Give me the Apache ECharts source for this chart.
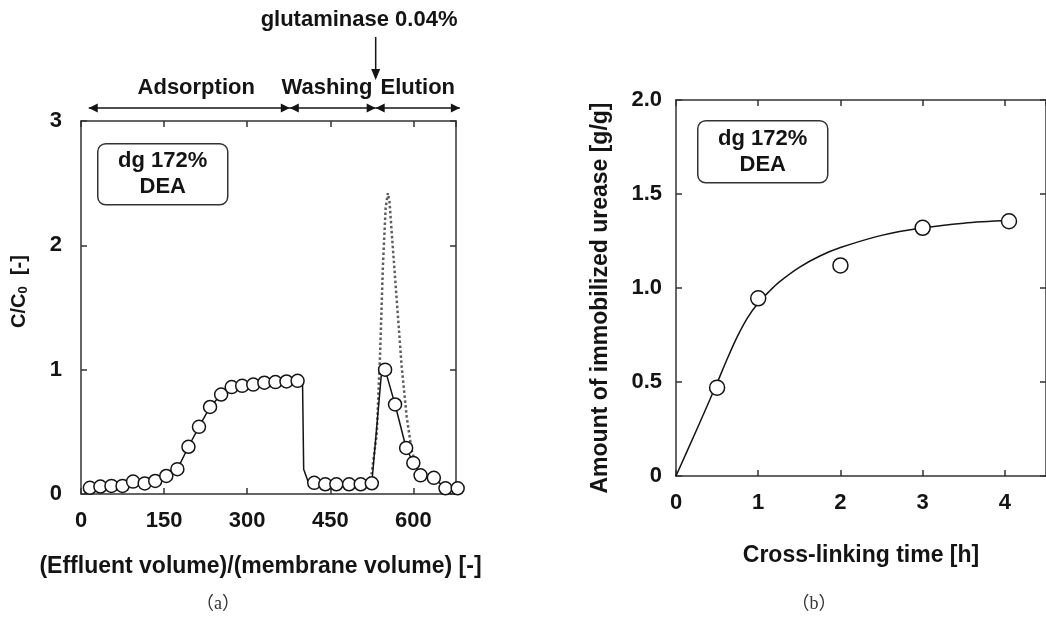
<!DOCTYPE html>
<html>
<head>
<meta charset="utf-8">
<script src="https://cdn.jsdelivr.net/npm/echarts@6.0.0/dist/echarts.min.js"></script>
<style>
  html, body { margin: 0; background: #fff; }
  #main { width: 1046px; height: 617px; }
</style>
</head>
<body>
<div id="main"></div>
<script>
// (a) breakthrough / elution curve
const volA = [16, 35, 55, 75, 94, 115, 134, 154, 174, 194, 213, 233, 253, 272, 291, 311, 331, 351, 371, 391,
  421, 441, 461, 484, 505, 525, 549, 567, 587, 600, 613, 637, 658, 680];
const concA = [0.05, 0.06, 0.065, 0.065, 0.1, 0.085, 0.105, 0.145, 0.2, 0.38, 0.54, 0.7, 0.8, 0.86, 0.87, 0.88, 0.895, 0.9, 0.905, 0.91,
  0.09, 0.078, 0.078, 0.078, 0.078, 0.086, 1.0, 0.72, 0.37, 0.25, 0.15, 0.13, 0.046, 0.046];
// solid guide line through the points (with the drop and rise)
const lineVolA = [16, 35, 55, 75, 94, 115, 134, 154, 174, 194, 213, 233, 253, 272, 291, 311, 331, 351, 371, 391,
  400, 402, 410, 421, 441, 461, 484, 505, 525, 542, 549, 567, 587, 600, 613, 637, 658, 680];
const lineConcA = [0.05, 0.06, 0.065, 0.065, 0.1, 0.085, 0.105, 0.145, 0.2, 0.38, 0.54, 0.7, 0.8, 0.86, 0.87, 0.88, 0.895, 0.9, 0.905, 0.91,
  0.88, 0.2, 0.1, 0.09, 0.078, 0.078, 0.078, 0.078, 0.086, 0.95, 1.0, 0.72, 0.37, 0.25, 0.15, 0.13, 0.046, 0.046];
// dotted peak
const dotVolA = [519, 525, 534, 540, 545, 550, 554, 557, 561, 570, 579, 588, 597, 606, 614];
const dotConcA = [0.08, 0.17, 0.49, 1.13, 1.83, 2.3, 2.42, 2.35, 2.1, 1.56, 1.02, 0.62, 0.35, 0.22, 0.15];

// phase annotations (x in effluent volume units)
const phaseNames = ['Adsorption', 'Washing', 'Elution'];
const phaseEdges = [14, 377, 532, 684];
const phaseLabelX = [208, 444, 608];
const enzymeLabel = 'glutaminase 0.04%';
const enzymeX = 532;

// (b) immobilized urease vs cross-linking time
const timeB = [0.5, 1, 2, 3, 4.05];
const ureaseB = [0.47, 0.945, 1.12, 1.32, 1.355];
const curveTimeB = [0, 0.25, 0.5, 0.625, 0.75, 0.875, 1.0, 1.125, 1.25, 1.5, 1.75, 2.0, 2.5, 3.0, 3.5, 4.05];
const curveUreaseB = [0, 0.245, 0.495, 0.625, 0.745, 0.845, 0.92, 0.978, 1.03, 1.11, 1.17, 1.215, 1.28, 1.32, 1.345, 1.36];

const xTicksA = { min: 0, max: 677, interval: 150 };
const yTicksA = { min: 0, max: 3, interval: 1 };
const xTicksB = { min: 0, max: 4.5, interval: 1 };
const yTicksB = { min: 0, max: 2, interval: 0.5 };

const zip = (xs, ys) => xs.map((x, i) => [x, ys[i]]);

const FONT = '"Liberation Sans", Arial, sans-serif';
const INK = '#141414';
const axisLine = { show: true, onZero: false, lineStyle: { color: '#333', width: 1.5 } };
const axisTick = { show: true, inside: true, length: 6, lineStyle: { color: '#333', width: 1.5 } };
const label = { color: INK, fontSize: 22, fontWeight: 'bold', fontFamily: FONT };
const nameStyle = { color: INK, fontSize: 23, fontWeight: 'bold', fontFamily: FONT };

function mainAxis(ticks, grid, extra) {
  return Object.assign({
    type: 'value', gridIndex: grid,
    min: ticks.min, max: ticks.max, interval: ticks.interval,
    axisLine, axisTick, splitLine: { show: false },
    nameTextStyle: nameStyle
  }, extra);
}
function mirrorAxis(ticks, grid, position) {
  return {
    type: 'value', gridIndex: grid, position,
    min: ticks.min, max: ticks.max, interval: ticks.interval,
    axisLine, axisTick, axisLabel: { show: false }, splitLine: { show: false }
  };
}

const option = {
  animation: false,
  backgroundColor: '#fff',
  grid: [
    { left: 81, top: 121, width: 375, height: 373 },
    { left: 676, top: 100, width: 377, height: 376 }
  ],
  xAxis: [
    mainAxis(xTicksA, 0, {
      position: 'bottom',
      name: '(Effluent volume)/(membrane volume) [-]',
      nameLocation: 'middle', nameGap: 61,
      nameTextStyle: Object.assign({ padding: [0, 16, 0, 0] }, nameStyle),
      axisLabel: Object.assign({ margin: 16, showMaxLabel: false }, label)
    }),
    mirrorAxis(xTicksA, 0, 'top'),
    mainAxis(xTicksB, 1, {
      position: 'bottom',
      name: 'Cross-linking time [h]',
      nameLocation: 'middle', nameGap: 68,
      axisLabel: Object.assign({ margin: 16, showMaxLabel: false }, label)
    }),
    mirrorAxis(xTicksB, 1, 'top')
  ],
  yAxis: [
    mainAxis(yTicksA, 0, {
      position: 'left',
      name: 'C/C{sub|0}  [-]',
      nameLocation: 'middle', nameGap: 51,
      nameTextStyle: {
        color: INK, fontSize: 20, fontWeight: 'bold', fontFamily: FONT, padding: [0, 0, 0, 32],
        rich: { sub: { color: INK, fontSize: 13, fontWeight: 'bold', fontFamily: FONT, verticalAlign: 'bottom', padding: [8, 0, 0, 0] } }
      },
      axisLabel: Object.assign({ margin: 19 }, label)
    }),
    mirrorAxis(yTicksA, 0, 'right'),
    mainAxis(yTicksB, 1, {
      position: 'left',
      name: 'Amount of immobilized urease [g/g]',
      nameLocation: 'middle', nameGap: 64,
      nameTextStyle: Object.assign({ padding: [0, 20, 0, 0] }, nameStyle),
      axisLabel: Object.assign({ margin: 14, formatter: v => (v === 0 ? '0' : v.toFixed(1)) }, label)
    }),
    mirrorAxis(yTicksB, 1, 'right')
  ],
  series: [
    {
      type: 'line', xAxisIndex: 0, yAxisIndex: 0,
      data: zip(dotVolA, dotConcA), showSymbol: false, silent: true,
      lineStyle: { color: '#5e5e5e', width: 2.5, type: 'dotted' }, z: 2
    },
    {
      type: 'line', xAxisIndex: 0, yAxisIndex: 0,
      data: zip(lineVolA, lineConcA), showSymbol: false, silent: true, clip: false,
      lineStyle: { color: INK, width: 1.5 }, z: 3
    },
    {
      type: 'scatter', xAxisIndex: 0, yAxisIndex: 0,
      data: zip(volA, concA), symbol: 'circle', symbolSize: 13, clip: false,
      itemStyle: { color: '#fff', borderColor: INK, borderWidth: 1.5, opacity: 1 }, z: 4
    },
    {
      type: 'line', xAxisIndex: 2, yAxisIndex: 2,
      data: zip(curveTimeB, curveUreaseB), smooth: 0.3, showSymbol: false, silent: true,
      lineStyle: { color: INK, width: 1.5 }, z: 3
    },
    {
      type: 'scatter', xAxisIndex: 2, yAxisIndex: 2,
      data: zip(timeB, ureaseB), symbol: 'circle', symbolSize: 15,
      itemStyle: { color: '#fff', borderColor: INK, borderWidth: 1.5, opacity: 1 }, z: 4
    }
  ]
};

const chart = echarts.init(document.getElementById('main'), null, { renderer: 'canvas' });
chart.setOption(option);

// annotations above panel (a), placed through the panel's own scales
const toPx = (x, y) => chart.convertToPixel({ xAxisIndex: 0, yAxisIndex: 0 }, [x, y]);
const arrowY = toPx(0, 3.105)[1];
const phaseTextY = toPx(0, 3.266)[1];
const stroke = { stroke: INK, lineWidth: 1.5 };
const headL = (x, y) => ({ type: 'polygon', shape: { points: [[x, y], [x + 9, y - 4.5], [x + 9, y + 4.5]] }, style: { fill: INK } });
const headR = (x, y) => ({ type: 'polygon', shape: { points: [[x, y], [x - 9, y - 4.5], [x - 9, y + 4.5]] }, style: { fill: INK } });
const graphics = [];
phaseNames.forEach((name, i) => {
  const x0 = toPx(phaseEdges[i], 0)[0];
  const x1 = toPx(phaseEdges[i + 1], 0)[0];
  graphics.push({ type: 'line', shape: { x1: x0, y1: arrowY, x2: x1, y2: arrowY }, style: stroke });
  graphics.push(headL(x0, arrowY), headR(x1, arrowY));
  graphics.push({
    type: 'text',
    style: { text: name, x: toPx(phaseLabelX[i], 0)[0], y: phaseTextY, align: 'center', verticalAlign: 'middle',
      font: 'bold 22px ' + FONT, fill: INK }
  });
});
const ex = toPx(enzymeX, 0)[0];
const eTop = toPx(0, 3.676)[1];
const eBot = toPx(0, 3.33)[1];
graphics.push({ type: 'line', shape: { x1: ex, y1: eTop, x2: ex, y2: eBot - 6 }, style: stroke });
graphics.push({ type: 'polygon', shape: { points: [[ex, eBot], [ex - 4.5, eBot - 11], [ex + 4.5, eBot - 11]] }, style: { fill: INK } });
graphics.push({
  type: 'text',
  style: { text: enzymeLabel, x: toPx(502, 0)[0], y: toPx(0, 3.81)[1], align: 'center', verticalAlign: 'middle',
    font: 'bold 22px ' + FONT, fill: INK }
});

// condition boxes
function condBox(x, y, w, h) {
  return {
    type: 'group', left: x, top: y, z: 10,
    children: [
      { type: 'rect', shape: { x: 0, y: 0, width: w, height: h, r: 8 }, style: { fill: '#fff', stroke: '#333', lineWidth: 1.5 } },
      { type: 'text', style: { text: 'dg 172%\nDEA', x: w / 2, y: h / 2, align: 'center', verticalAlign: 'middle',
        font: 'bold 22px ' + FONT, fill: INK, lineHeight: 26 } }
    ]
  };
}
graphics.push(condBox(97, 143, 130, 61));
graphics.push(condBox(697, 120, 130, 62));

// panel letters
const letterFont = '18px "Liberation Serif", "Noto Sans CJK JP", serif';
graphics.push({ type: 'text', style: { text: '（a）', x: 218, y: 604, align: 'center', verticalAlign: 'middle', font: letterFont, fill: '#333' } });
graphics.push({ type: 'text', style: { text: '（b）', x: 814, y: 604, align: 'center', verticalAlign: 'middle', font: letterFont, fill: '#333' } });

chart.setOption({ graphic: graphics });
</script>
</body>
</html>
